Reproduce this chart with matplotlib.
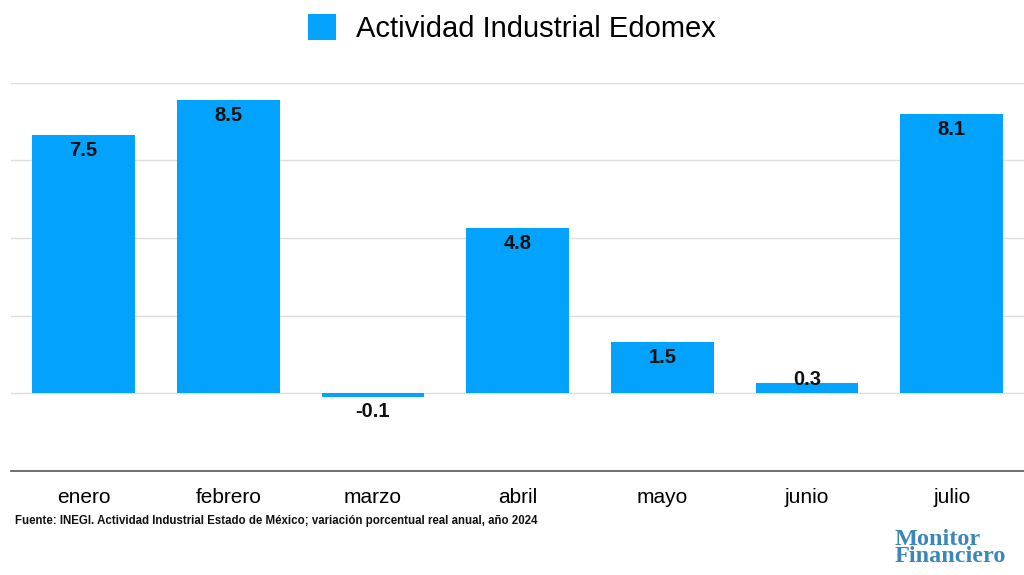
import numpy as np
import matplotlib.pyplot as plt

plt.rcParams['font.family'] = ['Liberation Sans', 'DejaVu Sans']

# datos: variacion porcentual real anual 2024
meses = ['enero', 'febrero', 'marzo', 'abril', 'mayo', 'junio', 'julio']
valores = [7.5, 8.5, -0.1, 4.8, 1.5, 0.3, 8.1]
color_barra = '#03A2FC'

fig = plt.figure(figsize=(10.24, 5.75), dpi=100)
ax = fig.add_axes([0.011, 0.181, 0.989, 0.675])

x = np.arange(len(meses))
barras = ax.bar(x, valores, width=0.71, color=color_barra, zorder=3,
                label='Actividad Industrial Edomex')

for xi, v in zip(x, valores):
    if v >= 0:
        yl = max(v - 0.45, 0.4)
    else:
        yl = v - 0.42
    ax.text(xi, yl, f'{v:.1f}', ha='center', va='center',
            fontsize=14.5, fontweight='bold', color='#111111', zorder=4)

ax.set_xlim(-0.5, len(meses) - 0.5)
ax.set_ylim(-2.25, 9.0)
ax.set_yticks([0, 2.25, 4.5, 6.75, 9.0])
ax.yaxis.grid(True, color='#dddddd', linewidth=1, zorder=0)
ax.set_yticklabels([])
ax.tick_params(axis='y', length=0)
ax.tick_params(axis='x', length=0, labelsize=15, pad=12)
ax.set_xticks(x)
ax.set_xticklabels(meses)
for s in ['top', 'right', 'left']:
    ax.spines[s].set_visible(False)
ax.spines['bottom'].set_color('#555555')
ax.spines['bottom'].set_linewidth(1.2)
ax.set_axisbelow(True)

fig.legend(handles=[barras], loc='center', bbox_to_anchor=(0.5, 0.95),
           frameon=False, fontsize=21, handlelength=0.95, handleheight=0.95,
           handletextpad=0.7)

fig.text(0.015, 0.094, 'Fuente: INEGI. Actividad Industrial Estado de México; variación porcentual real anual, año 2024',
         fontsize=8.3, fontweight='bold', color='#111111', va='center')

# logo
fig.text(0.874, 0.047, 'Monitor\nFinanciero', fontsize=17.5, fontweight='bold',
         family='Liberation Serif', color='#3B87B8', va='center', ha='left',
         linespacing=0.8)

fig.savefig('out.png', dpi=100)
